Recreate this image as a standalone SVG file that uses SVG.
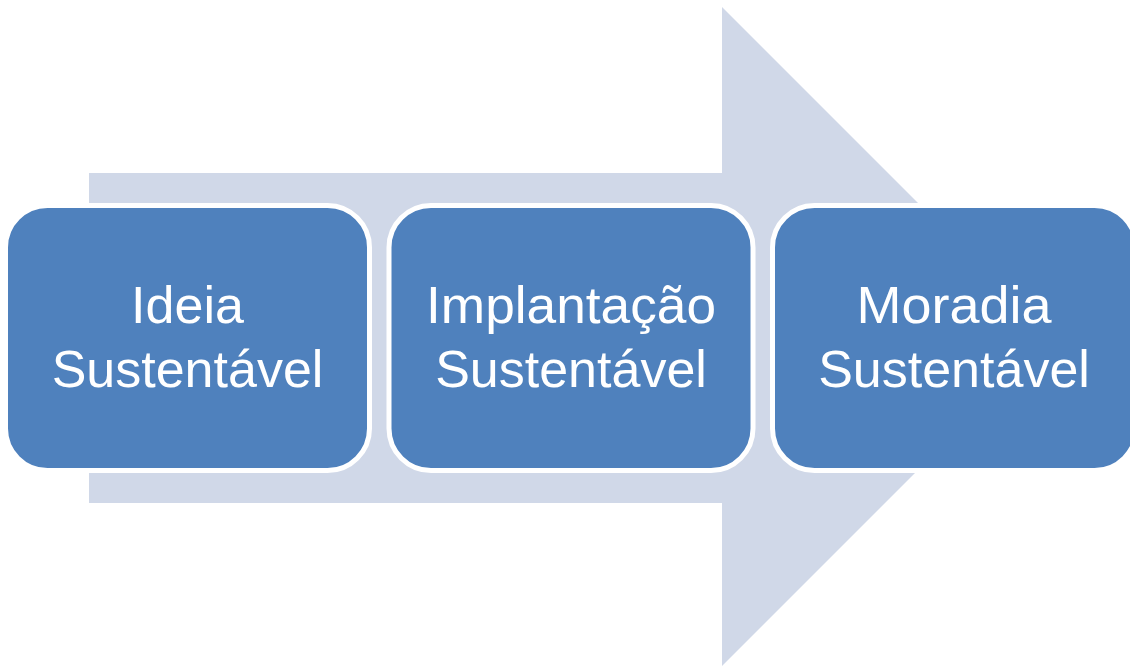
<svg xmlns="http://www.w3.org/2000/svg" width="1130" height="666" viewBox="0 0 1130 666">
<style>
.box{fill:#4F81BD;stroke:#FFFFFF;stroke-width:5}
.lbl{fill:#FFFFFF;font-family:"Liberation Sans",Arial,sans-serif;font-size:52px;text-anchor:middle}
</style>
<rect width="1130" height="666" fill="#FFFFFF"/>
<g id="arrow">
<polygon points="89,173 722,173 722,7 1051.5,336.5 722,666 722,503 89,503" fill="#D0D8E8"/>
</g>
<g id="connectors"></g>
<g id="node1">
<rect class="box" x="5.5" y="205.5" width="364" height="265" rx="42"/>
<text class="lbl" x="187.5" y="323">Ideia</text>
<text class="lbl" x="187.5" y="387">Sustentável</text>
</g>
<g id="node2">
<rect class="box" x="389" y="205.5" width="364" height="265" rx="42"/>
<text class="lbl" x="571" y="323" textLength="290" lengthAdjust="spacingAndGlyphs">Implantação</text>
<text class="lbl" x="571" y="387">Sustentável</text>
</g>
<g id="node3">
<rect class="box" x="772.5" y="205.5" width="364" height="265" rx="42"/>
<text class="lbl" x="954" y="323" textLength="195" lengthAdjust="spacingAndGlyphs">Moradia</text>
<text class="lbl" x="954" y="387">Sustentável</text>
</g>
</svg>
